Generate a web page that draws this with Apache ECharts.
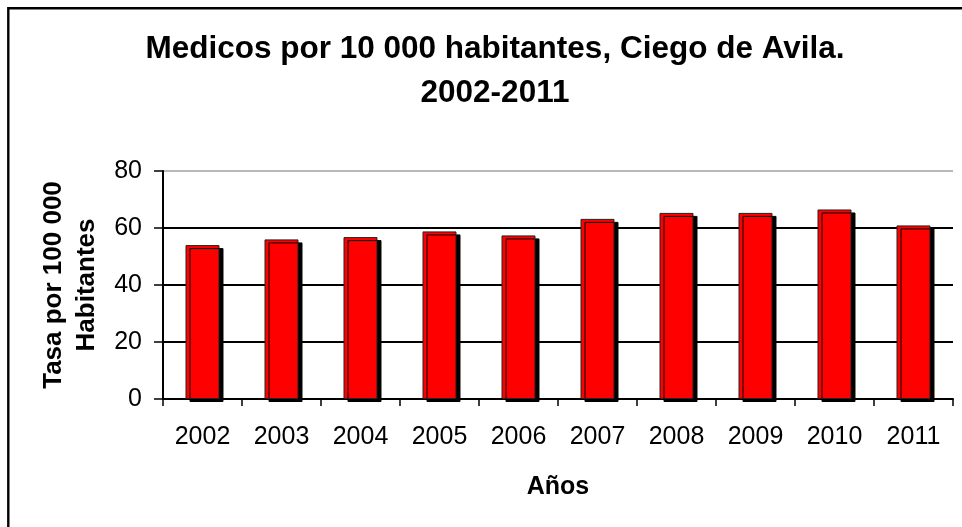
<!DOCTYPE html>
<html>
<head>
<meta charset="utf-8">
<script src="https://cdn.jsdelivr.net/npm/echarts@6/dist/echarts.min.js"></script>
<style>
  html, body { margin: 0; padding: 0; background: #fff; }
  #chart { width: 962px; height: 527px; }
</style>
</head>
<body>
<div id="chart"></div>
<script>
const years = ['2002', '2003', '2004', '2005', '2006', '2007', '2008', '2009', '2010', '2011'];
const medicos = [54, 56, 56.8, 58.8, 57.4, 63.2, 65.3, 65.3, 66.5, 60.9];
const titleText = 'Medicos por 10 000 habitantes, Ciego de Avila.\n2002-2011';
const yAxisTitle = 'Tasa por 100 000\nHabitantes';
const xAxisTitle = 'Años';

const FONT = '"Liberation Sans", Arial, sans-serif';
const chart = echarts.init(document.getElementById('chart'), null, { renderer: 'canvas' });

chart.setOption({
  backgroundColor: '#ffffff',
  animation: false,
  title: {
    text: titleText,
    left: 490,
    top: 22,
    textAlign: 'center',
    textStyle: {
      fontFamily: FONT,
      fontSize: 31.5,
      fontWeight: 'bold',
      color: '#000',
      lineHeight: 44,
      align: 'center'
    }
  },
  graphic: [
    {
      type: 'rect',
      shape: { x: 8.3, y: 8.3, width: 2000, height: 2000 },
      style: { fill: 'none', stroke: '#000', lineWidth: 2.4 },
      silent: true,
      z: 100
    }
  ],
  grid: {
    left: 163,
    right: 9,
    top: 171,
    bottom: 128,
    containLabel: false
  },
  xAxis: {
    type: 'category',
    data: years,
    name: xAxisTitle,
    nameLocation: 'middle',
    nameGap: 76,
    nameTextStyle: {
      fontFamily: FONT,
      fontSize: 25,
      fontWeight: 'bold',
      color: '#000'
    },
    axisLine: { show: true, lineStyle: { color: '#000', width: 2 } },
    axisTick: { show: true, alignWithLabel: false, length: 7, lineStyle: { color: '#000', width: 1.5 } },
    axisLabel: {
      fontFamily: FONT,
      fontSize: 25,
      color: '#000',
      margin: 26
    },
    splitLine: { show: false }
  },
  yAxis: {
    type: 'value',
    min: 0,
    max: 80,
    interval: 20,
    name: yAxisTitle,
    nameLocation: 'middle',
    nameGap: 59,
    nameRotate: 90,
    nameTextStyle: {
      fontFamily: FONT,
      fontSize: 26,
      fontWeight: 'bold',
      color: '#000',
      lineHeight: 33,
      align: 'center'
    },
    axisLine: { show: true, lineStyle: { color: '#000', width: 2 } },
    axisTick: { show: true, length: 9, lineStyle: { color: '#000', width: 1.5 } },
    axisLabel: {
      fontFamily: FONT,
      fontSize: 25,
      color: '#000',
      margin: 21
    },
    splitLine: {
      show: true,
      lineStyle: { color: ['#000', '#000', '#000', '#000', '#b8b8b8'], width: 2 }
    }
  },
  series: [
    {
      type: 'bar',
      data: medicos,
      barWidth: '43%',
      itemStyle: {
        color: '#ff0000',
        borderColor: '#222',
        borderWidth: 1,
        shadowColor: '#000',
        shadowBlur: 0,
        shadowOffsetX: 4,
        shadowOffsetY: 3
      },
      emphasis: { disabled: true }
    }
  ]
});
</script>
</body>
</html>
